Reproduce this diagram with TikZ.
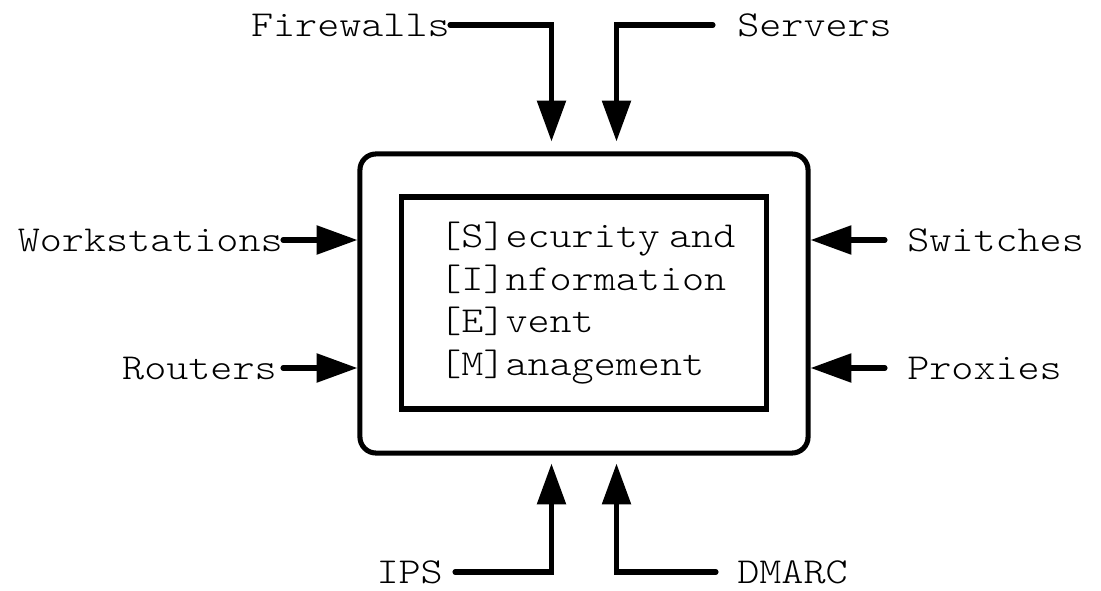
\documentclass[tikz,border=0pt]{standalone}
\usepackage{fontspec}
\setmonofont{Latin Modern Mono Light}[FakeStretch=1.15]
\usetikzlibrary{arrows.meta}
\tikzset{
  mono/.style={inner sep=0pt, font=\ttfamily\fontsize{26pt}{30.2pt}\selectfont},
  lbl/.style={mono, text height=16pt, text depth=0pt},
  feed/.style={line width=3.6pt, line cap=round, -{Triangle[length=29pt,width=20pt]}},
  panel/.style={draw, line width=3.6pt},
}
\begin{document}
\begin{tikzpicture}[x=0.025cm,y=-0.025cm]
    \useasboundingbox (0,0) rectangle (1101,591);
    % the SIEM box
    \node[panel, rounded corners=0.4cm, minimum width=11.2cm, minimum height=7.475cm] (siem) at (584,303.5) {};
    \node[panel, minimum width=9.1cm, minimum height=5.3cm] (core) at (584,303) {};
    \node[mono, anchor=west, align=left] (siemtext) at (439,303)
      {[S]ecurity\hspace{0.25em}and\\{[I]}nformation\\{[E]}vent\\{[M]}anagement};
    %
    \node[lbl, anchor=east] (fw) at (450,25) {Firewalls};
    \node[lbl, anchor=west] (sv) at (737,25) {Servers};
    \node[lbl, anchor=east] (ws) at (283,240) {Workstations};
    \node[lbl, anchor=east] (rt) at (277,368) {Routers};
    \node[lbl, anchor=west] (sw) at (907,240) {Switches};
    \node[lbl, anchor=west] (px) at (907,368) {Proxies};
    \node[lbl, anchor=east] (ips) at (443,572) {IPS};
    \node[lbl, anchor=west] (dm) at (737,572) {DMARC};
    %
    \draw[feed, shorten >=0.25cm] (fw.east) -| ([xshift=-0.8125cm]siem.north);
    \draw[feed, shorten <=0.6cm, shorten >=0.25cm] (sv.west) -| ([xshift=0.8125cm]siem.north);
    \draw[feed] (ws.east) -- (ws.east -| siem.west);
    \draw[feed, shorten <=0.15cm] (rt.east) -- (rt.east -| siem.west);
    \draw[feed, shorten <=0.55cm] (sw.west) -- (sw.west -| siem.east);
    \draw[feed, shorten <=0.55cm] (px.west) -- (px.west -| siem.east);
    \draw[feed, shorten <=0.3cm, shorten >=0.2cm] (ips.east) -| ([xshift=-0.8125cm]siem.south);
    \draw[feed, shorten <=0.525cm, shorten >=0.2cm] (dm.west) -| ([xshift=0.8125cm]siem.south);
    %
\end{tikzpicture}
\end{document}
